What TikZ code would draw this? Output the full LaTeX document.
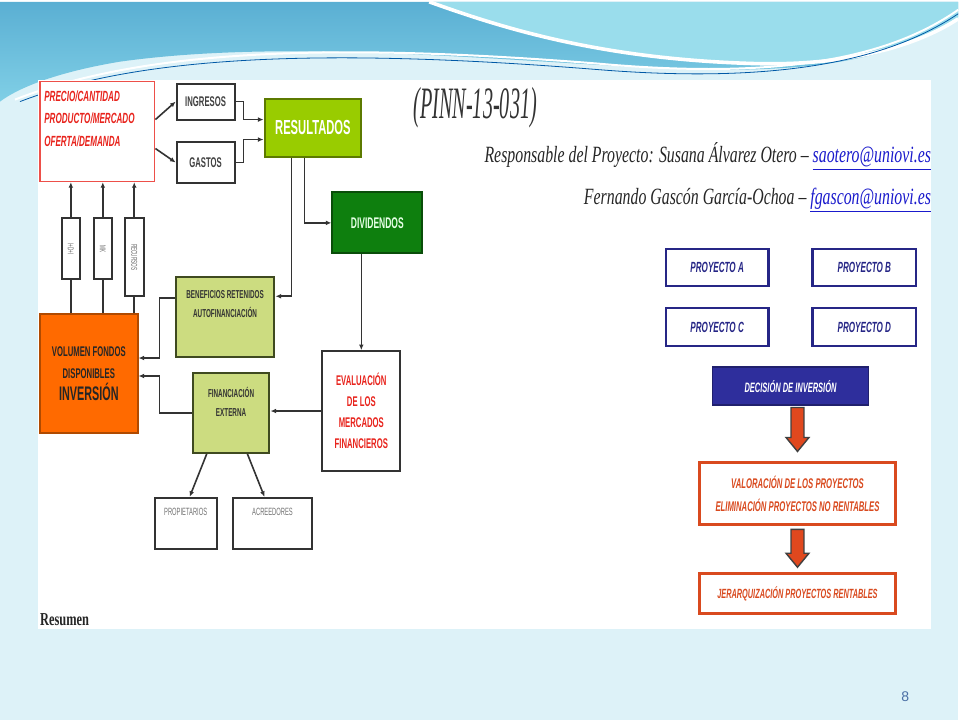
\documentclass[tikz,border=0pt]{standalone}
\usepackage{fontspec}
\usepackage{xcolor}
\usepackage{tikz}
\usetikzlibrary{arrows.meta,positioning,calc}

\newfontfamily\boxfont[FakeStretch=0.55]{Liberation Sans}
\newfontfamily\headfont[FakeStretch=0.68]{Liberation Serif}
\newfontfamily\pinnfont[FakeStretch=0.45]{Liberation Serif}
\newfontfamily\numfont{Liberation Sans}
\newcommand\fsz[2]{\fontsize{#1}{#2}\selectfont}

\definecolor{slidebg}{HTML}{DDF2F8}
\definecolor{topblue}{HTML}{5AAFD3}
\definecolor{midblue}{HTML}{80CFE6}
\definecolor{liteblue}{HTML}{9ADDEC}
\definecolor{linegray}{HTML}{333333}
\definecolor{redtxt}{HTML}{E8231C}
\definecolor{lime}{HTML}{99CC00}
\definecolor{limeedge}{HTML}{5C7A00}
\definecolor{divgreen}{HTML}{0E7F0E}
\definecolor{divedge}{HTML}{0A4D0A}
\definecolor{olive}{HTML}{CCDC80}
\definecolor{oliveedge}{HTML}{3F4A20}
\definecolor{volorange}{HTML}{FF6A00}
\definecolor{voledge}{HTML}{B04A00}
\definecolor{navy}{HTML}{2E2E9C}
\definecolor{projblue}{HTML}{262686}
\definecolor{valred}{HTML}{D94A1F}
\definecolor{arrowred}{HTML}{E0481E}
\definecolor{linkblue}{HTML}{1A1ACC}
\definecolor{pagenum}{HTML}{4A6FA5}

\begin{document}
\begin{tikzpicture}[x=0.25mm,y=-0.25mm,
  every node/.style={inner sep=0pt,align=center},
  conn/.style={draw=linegray,line width=0.4mm,-{Latex[length=1.4mm,width=1.2mm]}},
  plain/.style={draw=linegray,line width=0.4mm},
  graybox/.style={draw=linegray,line width=0.5mm,fill=white},
  redbox/.style={draw=redtxt!80,line width=0.35mm,fill=white},
  limebox/.style={draw=limeedge,line width=0.5mm,fill=lime,text=white,font=\boxfont\bfseries\fsz{14.5}{16}},
  divbox/.style={draw=divedge,line width=0.5mm,fill=divgreen,text=green!10,font=\boxfont\bfseries\fsz{11}{12}},
  olivebox/.style={draw=oliveedge,line width=0.5mm,fill=olive,text=black!80,font=\boxfont\bfseries\fsz{8.2}{13.5}},
  volbox/.style={draw=voledge,line width=0.4mm,fill=volorange,text=black!85,font=\boxfont\bfseries\fsz{10}{15.6}},
  sidebox/.style={draw=linegray,line width=0.45mm,fill=white,text=black!60,font=\boxfont\fsz{6}{7}},
  projbox/.style={draw=projblue,line width=0.55mm,fill=white,text=projblue,font=\boxfont\bfseries\itshape\fsz{10.5}{11}},
  valbox/.style={draw=valred,line width=0.75mm,fill=white,text=valred,font=\boxfont\bfseries\itshape\fsz{10}{16}},
  blockarrow/.style={fill=arrowred,draw=black!75,line width=0.35mm}]

\fill[slidebg] (0,0) rectangle (960,720);
\shade[top color=topblue,bottom color=midblue] (0,0) -- (960,0) -- (960,15) .. controls (900,55) and (830,70) .. (700,68) .. controls (520,62) and (300,35) .. (120,60) .. controls (60,70) and (20,85) .. (0,100) -- cycle;
\fill[liteblue] (430,0) .. controls (500,25) and (600,58) .. (760,62) .. controls (860,64) and (925,40) .. (960,17) -- (960,0) -- cycle;
\draw[white,line width=0.9mm] (430,0) .. controls (500,25) and (600,58) .. (760,62) .. controls (860,64) and (925,40) .. (960,17);
\draw[white,line width=0.5mm] (15,98) .. controls (150,45) and (350,42) .. (600,62) .. controls (800,80) and (900,50) .. (960,8);
\draw[teal!70!blue,line width=0.2mm] (20,100) .. controls (150,50) and (350,48) .. (600,68) .. controls (800,84) and (900,52) .. (960,12);

\fill[white] (38,78) rectangle (933,628);

\node[redbox,minimum width=28.75mm,minimum height=25mm] (precio) at (97.5,130) {};
\node[anchor=north west,align=left,text=redtxt,font=\boxfont\bfseries\itshape\fsz{10.5}{16}] (preciotxt) at ([xshift=1.2mm,yshift=-2.4mm]precio.north west) {PRECIO/CANTIDAD\\PRODUCTO/MERCADO\\OFERTA/DEMANDA};
\node[graybox,minimum width=14.5mm,minimum height=9mm,font=\boxfont\bfseries\fsz{10}{10},text=black!75] (ingresos) at (206,100) {INGRESOS};
\node[graybox,minimum width=14.5mm,minimum height=10.5mm,font=\boxfont\bfseries\fsz{10}{10},text=black!75] (gastos) at (206,161) {GASTOS};
\node[limebox,minimum width=24.25mm,minimum height=14.5mm] (resultados) at (313.5,126) {RESULTADOS};
\node[divbox,minimum width=22.5mm,minimum height=15.25mm] (dividendos) at (378,221.5) {DIVIDENDOS};
\node[olivebox,minimum width=24.75mm,minimum height=20mm] (beneficios) at (225.5,316) {BENEFICIOS RETENIDOS\\AUTOFINANCIACIÓN\\[2mm]};
\node[olivebox,minimum width=19.25mm,minimum height=20mm] (financiacion) at (231.5,412) {FINANCIACIÓN\\EXTERNA\\[1mm]};
\node[volbox,minimum width=24.5mm,minimum height=29.75mm] (volumen) at (89,372.5) {VOLUMEN FONDOS\\DISPONIBLES\\{\fsz{14}{14}INVERSIÓN}};
\node[graybox,minimum width=19.5mm,minimum height=30mm,text=redtxt,font=\boxfont\bfseries\fsz{10}{15}] (evaluacion) at (362,410) {EVALUACIÓN\\DE LOS\\MERCADOS\\FINANCIEROS};
\node[graybox,minimum width=15.5mm,minimum height=12.75mm] (propietarios) at (186,522.5) {};
\node[graybox,minimum width=20mm,minimum height=12.75mm] (acreedores) at (273,522.5) {};
\node[below=2.8mm of propietarios.north,text=black!55,font=\boxfont\fsz{7.5}{8}] (proptxt) {PROPIETARIOS};
\node[below=2.8mm of acreedores.north,text=black!55,font=\boxfont\fsz{7.5}{8}] (acretxt) {ACREEDORES};
\node[sidebox,minimum width=4.5mm,minimum height=15.25mm] (sb1) at (71,247.5) {};
\node[sidebox,minimum width=4.5mm,minimum height=15.25mm] (sb2) at (103,247.5) {};
\node[sidebox,minimum width=4.75mm,minimum height=19.5mm] (sb3) at (134.5,256) {};
\node[rotate=-90,text=black!60,font=\boxfont\fsz{6}{7}] at (sb1) {I+D+I};
\node[rotate=-90,text=black!60,font=\boxfont\fsz{6}{7}] at (sb2) {MK};
\node[rotate=-90,text=black!60,font=\boxfont\fsz{6}{7}] at (sb3) {RECURSOS};

\draw[conn] ([yshift=3mm]precio.east) -- (ingresos.west);
\draw[conn] ([yshift=-4.25mm]precio.east) -- (gastos.west);
\draw[conn] (ingresos.east) -- ++(8,0) |- ([yshift=2mm]resultados.west);
\draw[conn] (gastos.east) -- ++(8,0) |- ([yshift=-3mm]resultados.west);
\draw[conn] ([xshift=-2.1mm]resultados.south) |- (dividendos.west);
\draw[conn] ([xshift=-5.4mm]resultados.south) |- ([yshift=5.25mm]beneficios.east);
\draw[conn] (evaluacion.north |- dividendos.south) -- (evaluacion.north);
\draw[conn] (evaluacion.west) -- (evaluacion.west -| financiacion.east);
\draw[conn] ([yshift=4.75mm]beneficios.west) -- ++(-15,0) |- ([yshift=3.9mm]volumen.east);
\draw[conn] (financiacion.west) -- ++(-32,0) |- ([yshift=-0.6mm]volumen.east);
\draw[conn] ([xshift=-6.1mm]financiacion.south) -- ([xshift=1mm]propietarios.north);
\draw[conn] ([xshift=4.1mm]financiacion.south) -- ([xshift=-2mm]acreedores.north);
\foreach \b in {sb1,sb2,sb3}{
  \draw[plain] (\b.south |- volumen.north) -- (\b.south);
  \draw[conn] (\b.north) -- (\b.north |- precio.south);
}

\node[anchor=base west,font=\pinnfont\itshape\fsz{32}{34},text=black!80] (pinn) at (414,117) {(PINN-13-031)};
\node[anchor=base east,font=\headfont\itshape\fsz{16.6}{18},text=black!85] (resp) at (933,161) {Responsable del Proyecto: Susana Álvarez Otero – \textcolor{linkblue}{\underline{saotero@uniovi.es}}};
\node[anchor=base east,font=\headfont\itshape\fsz{16.6}{18},text=black!85] (resp2) at (933,203) {Fernando Gascón García-Ochoa – \textcolor{linkblue}{\underline{fgascon@uniovi.es}}};

\node[projbox,minimum width=25.75mm,minimum height=9.25mm] (proya) at (718.5,266.5) {PROYECTO A};
\node[projbox,minimum width=26mm,minimum height=9.25mm] (proyb) at (866,266.5) {PROYECTO B};
\node[projbox,minimum width=25.75mm,minimum height=9.5mm] (proyc) at (718.5,326) {PROYECTO C};
\node[projbox,minimum width=26mm,minimum height=9.5mm] (proyd) at (866,326) {PROYECTO D};
\node[draw=navy!70!black,line width=0.4mm,fill=navy,text=white,minimum width=39mm,minimum height=9.5mm,font=\boxfont\bfseries\itshape\fsz{9.7}{10}] (decision) at (792,385) {DECISIÓN DE INVERSIÓN};
\node[valbox,minimum width=49mm,minimum height=15.5mm] (valoracion) at (799,493) {VALORACIÓN DE LOS PROYECTOS\\ELIMINACIÓN PROYECTOS NO RENTABLES};
\node[valbox,minimum width=49mm,minimum height=10mm,font=\boxfont\bfseries\itshape\fsz{9.5}{10}] (jerarq) at (799,593) {JERARQUIZACIÓN PROYECTOS RENTABLES};
\draw[blockarrow] ($(valoracion.north)+(-6.5,-54)$) -- ++(13,0) -- ++(0,30) -- ++(5,0) -- ++(-11.5,14) -- ++(-11.5,-14) -- ++(5,0) -- cycle;
\draw[blockarrow] ($(jerarq.north)+(-6.5,-43)$) -- ++(13,0) -- ++(0,24) -- ++(5,0) -- ++(-11.5,14) -- ++(-11.5,-14) -- ++(5,0) -- cycle;

\node[anchor=base west,font=\headfont\bfseries\fsz{13}{14},text=black!85] (resumen) at (40,625) {Resumen};
\node[font=\numfont\fsz{10}{12},text=pagenum] (pagenum) at (907,696) {8};
\end{tikzpicture}
\end{document}
